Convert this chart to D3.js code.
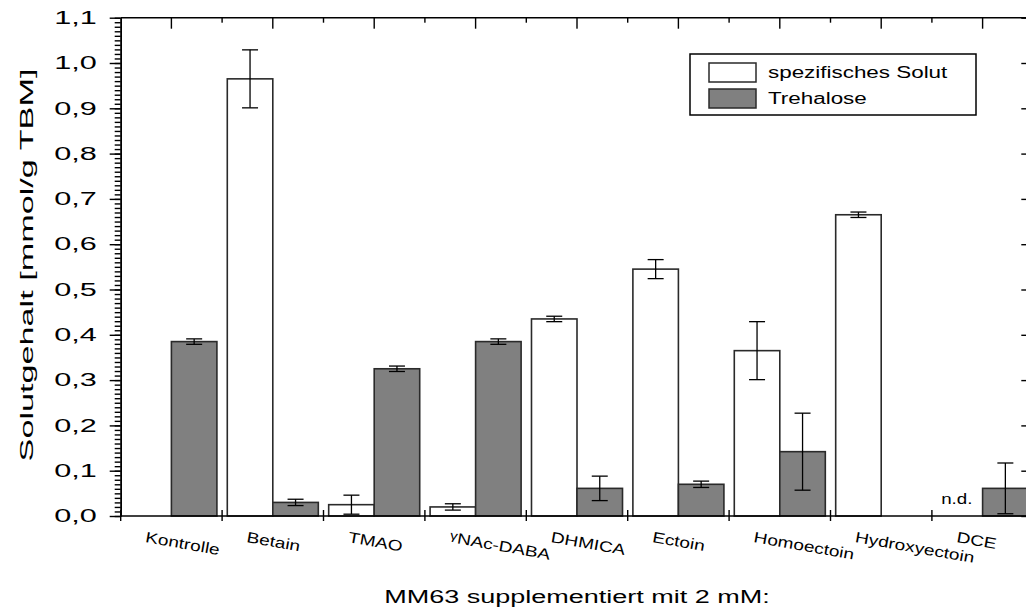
<!DOCTYPE html>
<html>
<head>
<meta charset="utf-8">
<script src="https://d3js.org/d3.v7.min.js"></script>
<style>
  body { margin: 0; background: #fff; }
  text { font-family: "Liberation Sans", Arial, sans-serif; fill: #000; }
</style>
</head>
<body>
<div id="vis"></div>
<script>
  // Data
  var categories = ["Kontrolle", "Betain", "TMAO", "γNAc-DABA", "DHMICA", "Ectoin", "Homoectoin", "Hydroxyectoin", "DCE"];
  var solute = [null, 0.965, 0.025, 0.020, 0.435, 0.545, 0.365, 0.665, null];
  var soluteErr = [null, 0.064, 0.021, 0.007, 0.006, 0.021, 0.064, 0.006, null];
  var trehalose = [0.385, 0.030, 0.325, 0.385, 0.061, 0.070, 0.142, null, 0.061];
  var trehaloseErr = [0.006, 0.007, 0.006, 0.006, 0.027, 0.007, 0.085, null, 0.056];
  var notDetected = ["DCE"];
  var yTicks = [0, 0.1, 0.2, 0.3, 0.4, 0.5, 0.6, 0.7, 0.8, 0.9, 1.0, 1.1];
  var seriesNames = ["spezifisches Solut", "Trehalose"];
  var seriesKeys = ["solute", "trehalose"];

  // Layout
  var margin = { top: 17.7, left: 120.7 };
  var width = 912.6;
  var height = 498.3;

  var svg = d3.select("#vis").append("svg")
    .attr("width", 1026)
    .attr("height", 615);

  var g = svg.append("g")
    .attr("transform", "translate(" + margin.left + "," + margin.top + ")");

  // widen text, the original fonts are wide
  function stretch(sel, k) {
    sel.each(function () {
      var L = this.getComputedTextLength();
      d3.select(this).attr("textLength", L * k).attr("lengthAdjust", "spacingAndGlyphs");
    });
  }

  var x = d3.scaleBand().domain(categories).range([0, width]).padding(0);
  var xs = d3.scaleBand().domain(seriesKeys).range([0, x.bandwidth()])
    .paddingInner(0).paddingOuter(0.114);
  var y = d3.scaleLinear().domain([0, 1.1]).range([height, 0]);
  var xEdges = d3.scaleLinear().domain([0, categories.length]).range([0, width]);

  var rows = categories.map(function (c, i) {
    return [
      { cat: c, key: "solute", v: solute[i], e: soluteErr[i] },
      { cat: c, key: "trehalose", v: trehalose[i], e: trehaloseErr[i] }
    ];
  });
  var bars = d3.merge(rows).filter(function (d) { return d.v != null; });

  // Bars
  g.selectAll("rect.bar")
    .data(bars)
    .enter()
    .append("rect")
    .attr("class", "bar")
    .attr("x", function (d) { return x(d.cat) + xs(d.key); })
    .attr("y", function (d) { return y(d.v); })
    .attr("width", xs.bandwidth())
    .attr("height", function (d) { return y(0) - y(d.v); })
    .style("fill", function (d) { return d.key == "solute" ? "#ffffff" : "#808080"; })
    .style("stroke", "#2a2a2a")
    .style("stroke-width", 1.6);

  // Error bars
  var err = g.selectAll("g.err")
    .data(bars)
    .enter()
    .append("g")
    .attr("class", "err")
    .attr("transform", function (d) {
      return "translate(" + (x(d.cat) + xs(d.key) + xs.bandwidth() / 2) + ",0)";
    })
    .style("stroke", "#000")
    .style("stroke-width", 1.3);
  err.append("line")
    .attr("y1", function (d) { return y(d.v + d.e); })
    .attr("y2", function (d) { return y(Math.max(0, d.v - d.e)); });
  err.append("line")
    .attr("x1", -8).attr("x2", 8)
    .attr("y1", function (d) { return y(d.v + d.e); })
    .attr("y2", function (d) { return y(d.v + d.e); });
  err.append("line")
    .attr("x1", -8).attr("x2", 8)
    .attr("y1", function (d) { return y(Math.max(0, d.v - d.e)); })
    .attr("y2", function (d) { return y(Math.max(0, d.v - d.e)); });

  // n.d. label
  g.selectAll("text.nd")
    .data(notDetected)
    .enter()
    .append("text")
    .attr("class", "nd")
    .attr("x", function (d) { return x(d) + xs("solute") + xs.bandwidth() / 2 - 3; })
    .attr("y", y(0) - 12)
    .attr("text-anchor", "middle")
    .style("font-size", "15px")
    .text("n.d.")
    .call(stretch, 1.25);

  // Left axis: major + minor ticks
  var fmt = function (d) { return d3.format(".1f")(d).replace(".", ","); };
  var yAxis = g.append("g")
    .call(d3.axisLeft(y).tickValues(yTicks).tickSize(11).tickSizeOuter(0).tickPadding(13).tickFormat(fmt));
  yAxis.selectAll("text").style("font-size", "18px").attr("font-family", null).call(stretch, 1.7);
  g.append("g")
    .call(d3.axisLeft(y).tickValues(d3.range(0, 111).map(function (i) { return i / 100; }))
      .tickSize(6).tickSizeOuter(0).tickFormat(""));

  // Right axis: inward ticks
  g.append("g")
    .attr("transform", "translate(" + width + ",0)")
    .call(d3.axisLeft(y).tickValues(yTicks).tickSize(12).tickSizeOuter(0).tickFormat(""));

  // Top and bottom frame lines
  g.append("path")
    .attr("d", "M0,0H" + width)
    .style("stroke", "#000").style("stroke-width", 1.5);
  g.append("path")
    .attr("d", "M0," + height + "H" + width)
    .style("stroke", "#000").style("stroke-width", 1.5);

  // Frame ticks as thin rects: long at category centres (top), short at boundaries
  var frameTicks = g.append("g").style("fill", "#000");
  frameTicks.selectAll("rect.tc")
    .data(categories)
    .enter()
    .append("rect")
    .attr("class", "tc")
    .attr("x", function (d) { return x(d) + x.bandwidth() / 2 - 0.7; })
    .attr("y", 0)
    .attr("width", 1.4)
    .attr("height", 11);
  frameTicks.selectAll("rect.tb")
    .data(d3.range(1, categories.length))
    .enter()
    .append("rect")
    .attr("class", "tb")
    .attr("x", function (d) { return xEdges(d) - 0.7; })
    .attr("y", 0)
    .attr("width", 1.4)
    .attr("height", 5);
  frameTicks.selectAll("rect.bb")
    .data(d3.range(0, categories.length))
    .enter()
    .append("rect")
    .attr("class", "bb")
    .attr("x", function (d) { return xEdges(d) - 0.7; })
    .attr("y", height - 6)
    .attr("width", 1.4)
    .attr("height", 11);

  g.selectAll(".domain").style("stroke-width", 1.5);
  g.selectAll(".tick line").style("stroke-width", 1.4);

  // Category labels (tilted)
  var labels = g.selectAll("text.cat")
    .data(categories)
    .enter()
    .append("text")
    .attr("class", "cat")
    .attr("transform", function (d) {
      return "translate(" + (x(d) + 24) + "," + (height + 26) + ") rotate(10)";
    })
    .style("font-size", "15px");
  labels.each(function (d) {
    var t = d3.select(this);
    if (d.charAt(0) == "γ") {
      t.append("tspan").style("font-size", "12px").attr("dy", -3).text("γ");
      t.append("tspan").attr("dy", 3).text(d.slice(1));
    } else {
      t.text(d);
    }
  });
  labels.call(stretch, 1.27);

  // Axis titles
  svg.append("text")
    .attr("x", 577)
    .attr("y", 603)
    .attr("text-anchor", "middle")
    .style("font-size", "18px")
    .text("MM63 supplementiert mit 2 mM:")
    .call(stretch, 1.5);

  svg.append("text")
    .attr("transform", "translate(33,265) rotate(-90)")
    .attr("text-anchor", "middle")
    .style("font-size", "18px")
    .text("Solutgehalt [mmol/g TBM]")
    .call(stretch, 1.9);

  // Legend
  var legend = svg.append("g").attr("transform", "translate(690,54)");
  legend.append("rect")
    .attr("width", 286).attr("height", 61)
    .style("fill", "#fff").style("stroke", "#000").style("stroke-width", 1.5);
  var items = legend.selectAll("g.item")
    .data(seriesNames)
    .enter()
    .append("g")
    .attr("class", "item")
    .attr("transform", function (d, i) { return "translate(19," + (9 + i * 26) + ")"; });
  items.append("rect")
    .attr("width", 47).attr("height", 19)
    .style("fill", function (d, i) { return i == 0 ? "#fff" : "#808080"; })
    .style("stroke", "#2a2a2a").style("stroke-width", 1.5);
  items.append("text")
    .attr("x", 59).attr("y", 15)
    .style("font-size", "16px")
    .text(function (d) { return d; })
    .call(stretch, 1.4);
</script>
</body>
</html>
